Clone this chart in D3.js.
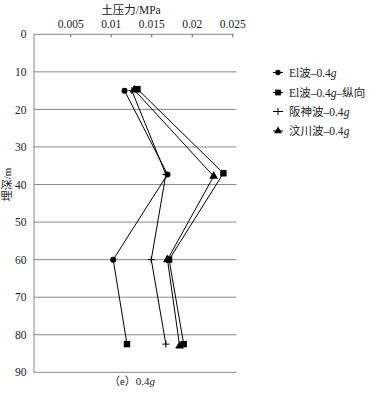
<!DOCTYPE html>
<html>
<head>
  <meta charset="UTF-8">
  <title>土压力</title>
  <style>
    body { margin: 0; background: #fff; }
    svg { display: block; }
    text { font-family: "Liberation Serif", "Noto Sans CJK SC", serif; fill: #222; }
  </style>
</head>
<body>
<svg></svg>
<script src="https://d3js.org/d3.v7.min.js"></script>
<script>

let width = 369, height = 393;

// data
let seriesNames = ["El波–0.4", "El波–0.4", "阪神波–0.4", "汶川波–0.4"];
let seriesSuffix = ["", "–纵向", "", ""];
let seriesMarker = ["circle", "square", "plus", "triangle"];
let elPressure = [0.0117, 0.0170, 0.0103, 0.0120];
let elDepth = [15, 37.3, 60, 82.5];
let elMarkers = ["circle", "circle", "circle", "square"];
let elLongPressure = [0.0133, 0.0239, 0.0172, 0.0190];
let elLongDepth = [14.6, 37, 60, 82.5];
let hanshinPressure = [0.0126, 0.0168, 0.0150, 0.0168];
let hanshinDepth = [15, 37.3, 60, 82.5];
let wenchuanPressure = [0.0129, 0.0227, 0.0170, 0.0185];
let wenchuanDepth = [14.8, 37.8, 60, 83];
let xTicks = [0.005, 0.01, 0.015, 0.02, 0.025];
let yTicks = [0, 10, 20, 30, 40, 50, 60, 70, 80, 90];

let series = [
  { x: elPressure, y: elDepth, m: elMarkers },
  { x: elLongPressure, y: elLongDepth, m: elLongDepth.map(() => "square") },
  { x: hanshinPressure, y: hanshinDepth, m: hanshinDepth.map(() => "plus") },
  { x: wenchuanPressure, y: wenchuanDepth, m: wenchuanDepth.map(() => "triangle") }
];

let svg = d3.select("svg").attr("width", width).attr("height", height);

let x = d3.scaleLinear().domain([0.0005, 0.025]).range([33.8, 232.3]);
let y = d3.scaleLinear().domain([0, 90]).range([34.3, 372.3]);

// gridlines
svg.append("g")
  .selectAll("line")
  .data(yTicks.slice(1))
  .enter().append("line")
    .attr("x1", 33.5).attr("x2", 236.5)
    .attr("y1", d => y(d)).attr("y2", d => y(d))
    .attr("stroke", "#8a8a8a").attr("stroke-width", 1);

// top axis
let xAxis = svg.append("g")
  .attr("transform", "translate(0," + y(0) + ")")
  .call(d3.axisBottom(x).tickValues(xTicks).tickSize(3).tickFormat(d => String(+d.toFixed(3))));
xAxis.select(".domain").attr("d", "M33.5,0H234").attr("stroke", "#8a8a8a");
xAxis.selectAll(".tick line").attr("stroke", "#666");
xAxis.selectAll(".tick text").attr("y", -6.5).attr("dy", 0).attr("font-size", 11.5);

// left axis
let yAxis = svg.append("g")
  .attr("transform", "translate(33.5,0)")
  .call(d3.axisLeft(y).tickValues(yTicks).tickSize(0).tickPadding(7));
yAxis.select(".domain").attr("stroke", "#8a8a8a");
yAxis.selectAll(".tick text").attr("font-size", 11.5);
yAxis.selectAll("text").attr("font-family", "Liberation Serif");

svg.append("text").attr("x", 131).attr("y", 14).attr("text-anchor", "middle")
  .attr("font-size", 11.5).text("土压力/MPa");

svg.append("text").attr("transform", "translate(11," + y(40) + ") rotate(-90)")
  .attr("text-anchor", "middle").attr("font-size", 11).text("埋深/m");

// markers
function marker(sel, type, s) {
  s = s || 1;
  if (type == "circle") {
    sel.append("circle").attr("r", 3 * s).attr("fill", "#000");
  } else if (type == "square") {
    sel.append("rect").attr("x", -3.2 * s).attr("y", -3.2 * s)
      .attr("width", 6.4 * s).attr("height", 6.4 * s).attr("fill", "#000");
  } else if (type == "plus") {
    sel.append("path").attr("d", "M-3.5,0H3.5M0,-3.5V3.5")
      .attr("stroke", "#000").attr("stroke-width", 1);
  } else {
    sel.append("path").attr("d", d3.symbol(d3.symbolTriangle, 34 * s * s)())
      .attr("fill", "#000");
  }
}

let line = d3.line().x(d => x(d[0])).y(d => y(d[1]));

series.forEach(s => {
  let pts = s.x.map((v, i) => [v, s.y[i], s.m[i]]);
  svg.append("path").datum(pts).attr("d", line)
    .attr("fill", "none").attr("stroke", "#000").attr("stroke-width", 1);
  pts.forEach(p => {
    let g = svg.append("g").attr("transform", "translate(" + x(p[0]) + "," + y(p[1]) + ")");
    marker(g, p[2]);
  });
});

// legend
let legendY = [72.5, 92.5, 111.5, 131];
seriesNames.forEach((name, i) => {
  let g = svg.append("g").attr("transform", "translate(278," + legendY[i] + ")");
  g.append("line").attr("x1", -5).attr("x2", 5).attr("stroke", "#000");
  marker(g, seriesMarker[i], 0.9);
  let t = g.append("text").attr("x", 11).attr("dy", "0.35em").attr("font-size", 11.5);
  t.append("tspan").text(name);
  t.append("tspan").attr("font-style", "italic").text("g");
  if (seriesSuffix[i]) t.append("tspan").text(seriesSuffix[i]);
});

let cap = svg.append("text").attr("x", 132).attr("y", 385).attr("text-anchor", "middle")
  .attr("font-size", 11);
cap.append("tspan").text("（e）0.4");
cap.append("tspan").attr("font-style", "italic").text("g");

</script>
</body>
</html>
